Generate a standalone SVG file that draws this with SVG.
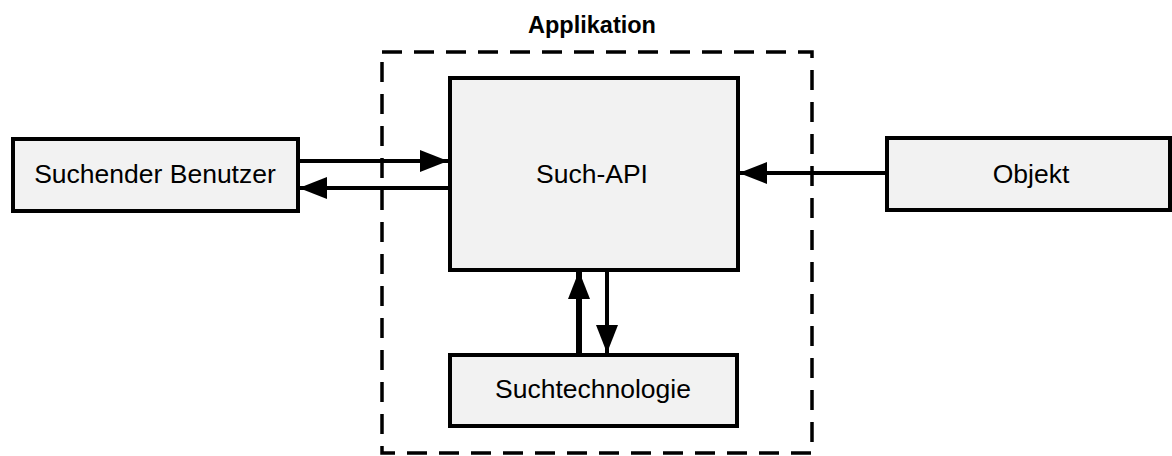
<svg xmlns="http://www.w3.org/2000/svg" width="1172" height="456" viewBox="0 0 1172 456">
  <style>
    .box { fill: #f2f2f2; stroke: #000; stroke-width: 4; }
    .lbl { font-family: "Liberation Sans", Arial, sans-serif; font-size: 26.5px; fill: #000; text-anchor: middle; }
    .title { font-size: 23.5px; font-weight: bold; }
    .conn { stroke: #000; stroke-width: 4; fill: none; }
    .frame { fill: none; stroke: #000; stroke-width: 3.5; stroke-dasharray: 20 12; }
  </style>
  <defs>
    <marker id="arrow" markerUnits="userSpaceOnUse" markerWidth="30" markerHeight="24" refX="28" refY="11" orient="auto">
      <path d="M0,0 L28,11 L0,22 Z" fill="#000"/>
    </marker>
  </defs>
  <rect width="1172" height="456" fill="#fff"/>

  <g id="applikation">
    <rect class="frame" x="382" y="52" width="430" height="401"/>
    <text class="lbl title" x="592" y="33">Applikation</text>
  </g>

  <g id="such-api">
    <rect class="box" x="450" y="78" width="288" height="192"/>
    <text class="lbl" x="592" y="183">Such-API</text>
  </g>

  <g id="suchtechnologie">
    <rect class="box" x="450" y="355" width="287" height="71"/>
    <text class="lbl" x="593" y="398">Suchtechnologie</text>
  </g>

  <g id="benutzer">
    <rect class="box" x="13" y="139" width="285" height="72"/>
    <text class="lbl" x="155" y="183">Suchender Benutzer</text>
  </g>

  <g id="objekt">
    <rect class="box" x="887" y="138" width="283" height="72"/>
    <text class="lbl" x="1031" y="183">Objekt</text>
  </g>

  <g id="connectors">
    <line class="conn" x1="298" y1="161" x2="448" y2="161" marker-end="url(#arrow)"/>
    <line class="conn" x1="448" y1="188" x2="299" y2="188" marker-end="url(#arrow)"/>
    <line class="conn" x1="887" y1="173" x2="739" y2="173" marker-end="url(#arrow)"/>
    <line class="conn" x1="579" y1="354" x2="579" y2="271" style="stroke-width:6" marker-end="url(#arrow)"/>
    <line class="conn" x1="607" y1="271" x2="607" y2="353" marker-end="url(#arrow)"/>
  </g>
</svg>
